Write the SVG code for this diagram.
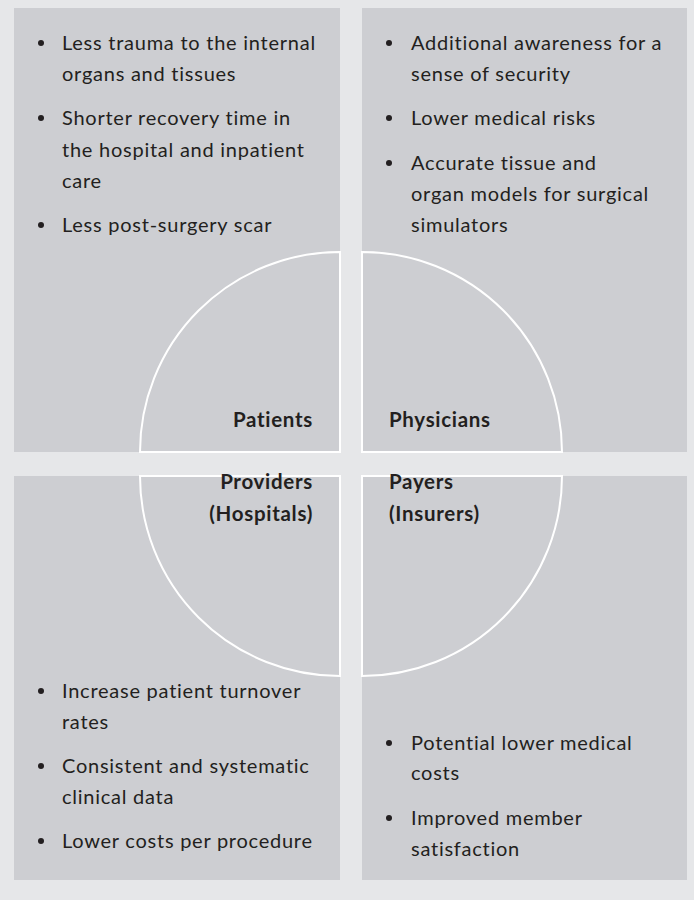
<svg xmlns="http://www.w3.org/2000/svg" width="694" height="900" viewBox="0 0 694 900">
<style>
.panel{fill:#cdced2}
.q{fill:#cdced2;stroke:#ffffff;stroke-width:2}
.t{font-family:Lato,"Noto Sans","Liberation Sans",sans-serif;font-size:20px;letter-spacing:0.75px;fill:#231f20}
.b{font-family:Lato,"Noto Sans","Liberation Sans",sans-serif;font-size:20.5px;letter-spacing:0.7px;font-weight:bold;fill:#231f20}
.dot{fill:#231f20}
</style>
<rect x="0" y="0" width="694" height="900" fill="#e6e7e9"/>
<g id="patients">
<rect class="panel" x="14" y="8" width="326" height="444"/>
<path class="q" d="M340,452 L140,452 A200,200 0 0 1 340,252 Z"/>
<text class="b" x="313" y="427" text-anchor="end">Patients</text>
<circle class="dot" cx="41" cy="43" r="3"/>
<text class="t" x="62" y="50">Less trauma to the internal</text>
<text class="t" x="62" y="81">organs and tissues</text>
<circle class="dot" cx="41" cy="118" r="3"/>
<text class="t" x="62" y="125">Shorter recovery time in</text>
<text class="t" x="62" y="157">the hospital and inpatient</text>
<text class="t" x="62" y="188">care</text>
<circle class="dot" cx="41" cy="225" r="3"/>
<text class="t" x="62" y="232">Less post-surgery scar</text>
</g>
<g id="physicians">
<rect class="panel" x="362" y="8" width="325" height="444"/>
<path class="q" d="M362,452 L362,252 A200,200 0 0 1 562,452 Z"/>
<text class="b" x="389" y="427">Physicians</text>
<circle class="dot" cx="389" cy="43" r="3"/>
<text class="t" x="411" y="50">Additional awareness for a</text>
<text class="t" x="411" y="81">sense of security</text>
<circle class="dot" cx="389" cy="118" r="3"/>
<text class="t" x="411" y="125">Lower medical risks</text>
<circle class="dot" cx="389" cy="163" r="3"/>
<text class="t" x="411" y="170">Accurate tissue and</text>
<text class="t" x="411" y="201">organ models for surgical</text>
<text class="t" x="411" y="232">simulators</text>
</g>
<g id="providers">
<rect class="panel" x="14" y="476" width="326" height="404"/>
<path class="q" d="M340,476 L340,676 A200,200 0 0 1 140,476 Z"/>
<text class="b" x="313" y="489" text-anchor="end">Providers</text>
<text class="b" x="313" y="521" text-anchor="end">(Hospitals)</text>
<circle class="dot" cx="41" cy="691" r="3"/>
<text class="t" x="62" y="698">Increase patient turnover</text>
<text class="t" x="62" y="729">rates</text>
<circle class="dot" cx="41" cy="766" r="3"/>
<text class="t" x="62" y="773">Consistent and systematic</text>
<text class="t" x="62" y="804">clinical data</text>
<circle class="dot" cx="41" cy="841" r="3"/>
<text class="t" x="62" y="848">Lower costs per procedure</text>
</g>
<g id="payers">
<rect class="panel" x="362" y="476" width="325" height="404"/>
<path class="q" d="M362,476 L562,476 A200,200 0 0 1 362,676 Z"/>
<text class="b" x="389" y="489">Payers</text>
<text class="b" x="389" y="521">(Insurers)</text>
<circle class="dot" cx="389" cy="743" r="3"/>
<text class="t" x="411" y="750">Potential lower medical</text>
<text class="t" x="411" y="780">costs</text>
<circle class="dot" cx="389" cy="818" r="3"/>
<text class="t" x="411" y="825">Improved member</text>
<text class="t" x="411" y="856">satisfaction</text>
</g>
<g id="connectors"></g>
</svg>
